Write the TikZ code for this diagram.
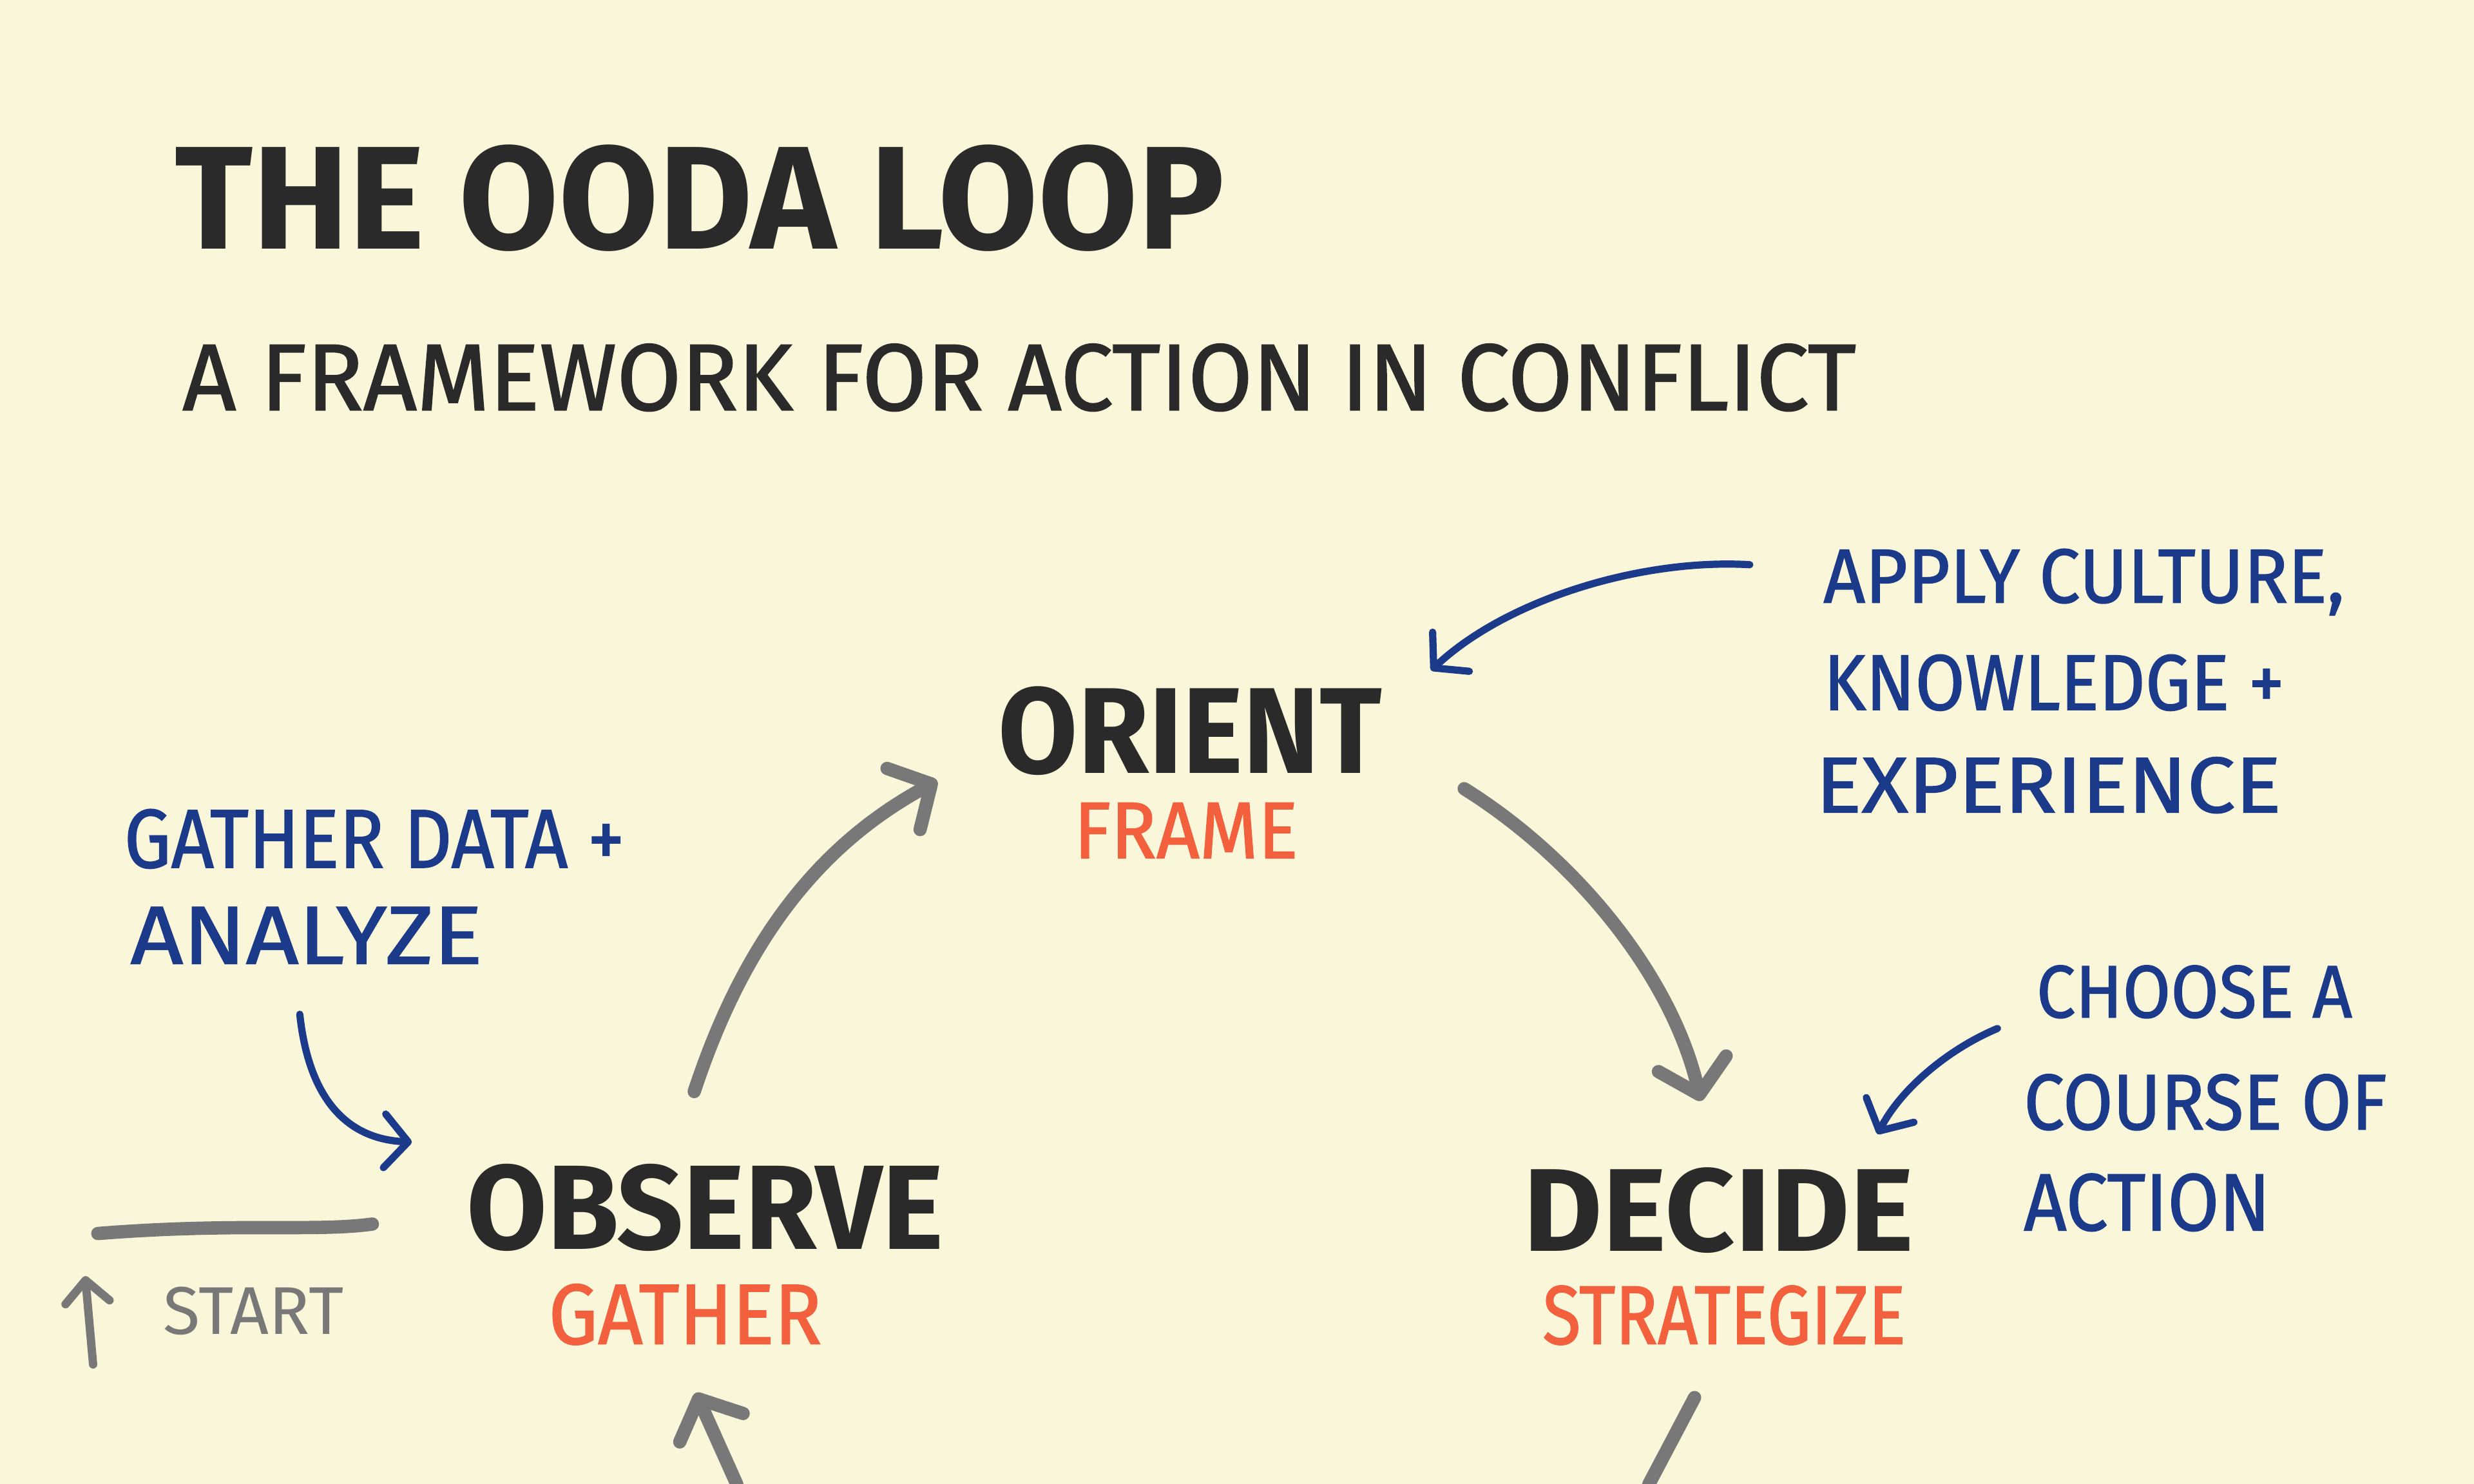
\documentclass[tikz,border=0pt]{standalone}
\usepackage{fontspec}
\setmainfont{Fira Sans}
\newfontfamily\firamedium[FakeBold=1.3]{Fira Sans}
\usetikzlibrary{arrows.meta}
\definecolor{paper}{HTML}{FAF6D9}
\definecolor{ink}{HTML}{2A2A2A}
\definecolor{marker}{HTML}{F2603E}
\definecolor{pen}{HTML}{1B3A8A}
\definecolor{pencil}{HTML}{787878}
\newcommand{\fitbox}[3]{\resizebox{#1cm}{#2cm}{#3}}

\begin{document}
\begin{tikzpicture}[x=0.01cm, y=-0.01cm,
  headline/.style={anchor=base west, inner sep=0pt, text=ink, font=\bfseries},
  subline/.style={anchor=base west, inner sep=0pt, text=ink, font=\firamedium},
  stage/.style={anchor=base west, inner sep=0pt, text=ink, font=\bfseries},
  gloss/.style={anchor=base west, inner sep=0pt, text=marker, font=\firamedium},
  note/.style={anchor=base west, inner sep=0pt, text=pen, font=\firamedium},
  startlabel/.style={anchor=base west, inner sep=0pt, text=pencil},
  flow/.style={pencil, line width=2.4pt, line cap=round, -{Straight Barb[length=2mm, width=4.4mm, round]}},
  trace/.style={pencil, line width=2.4pt, line cap=round},
  hint/.style={pen, line width=1.3pt, line cap=round, -{Straight Barb[length=1.5mm, width=3.4mm, round]}}]
\fill [paper] (0,0) rectangle (1568,940.8);
\useasboundingbox (0,0) rectangle (1568,940.8);

% title
\node [headline] (title) at (110,158) {\fitbox{6.65}{0.66}{THE OODA LOOP}};
\node [subline] (subtitle) at (115,260) {\fitbox{10.6}{0.42}{A FRAMEWORK FOR ACTION IN CONFLICT}};

% the four stages we can see
\node [stage] (orient) at (632,490) {\fitbox{2.43}{0.55}{ORIENT}};
\node [gloss] (frame) at (680,544) {\fitbox{1.42}{0.35}{FRAME}};
\node [stage] (observe) at (295,792) {\fitbox{3.02}{0.54}{OBSERVE}};
\node [gloss] (gather) at (347,852) {\fitbox{1.73}{0.38}{GATHER}};
\node [stage] (decide) at (965,793) {\fitbox{2.47}{0.53}{DECIDE}};
\node [gloss] (strategize) at (977,852) {\fitbox{2.30}{0.37}{STRATEGIZE}};
\node [startlabel] (start) at (103,846) {\fitbox{1.14}{0.30}{START}};

% notes in blue
\node [note] (culture) at (1155,382) {\fitbox{3.3}{0.34}{APPLY CULTURE,}};
\node [note] (knowledge) at (1155,450) {\fitbox{2.92}{0.35}{KNOWLEDGE +}};
\node [note] (experience) at (1150,515) {\fitbox{2.95}{0.35}{EXPERIENCE}};
\node [note] (gatherdata) at (78,550) {\fitbox{3.17}{0.37}{GATHER DATA +}};
\node [note] (analyze) at (82,611) {\fitbox{2.23}{0.36}{ANALYZE}};
\node [note] (choose) at (1290,645) {\fitbox{2.0}{0.33}{CHOOSE A}};
\node [note] (course) at (1282,716) {\fitbox{2.30}{0.35}{COURSE OF}};
\node [note] (action) at (1282,780) {\fitbox{1.56}{0.36}{ACTION}};

% arrow ends
\coordinate (obs-out) at (440,692);
\coordinate (ori-in) at (594,495);
\coordinate (ori-out) at (928,500);
\coordinate (dec-in) at (1078,698);
\coordinate (dec-out) at (1074,886);
\coordinate (loop-low) at (1045,941);
\coordinate (loop-back) at (467,941);
\coordinate (obs-in) at (441,883);
\coordinate (line-a) at (62,782);
\coordinate (line-b) at (236,776);
\coordinate (start-tail) at (59,865);
\coordinate (start-tip) at (54,809);
\coordinate (culture-tail) at (1109,358);
\coordinate (culture-tip) at (907,425);
\coordinate (gd-tail) at (190,643);
\coordinate (gd-tip) at (261,724);
\coordinate (choose-tail) at (1266,652);
\coordinate (choose-tip) at (1190,719);

% the loop
\draw [flow] (obs-out) .. controls (472,595) and (520,535) .. (ori-in);
\draw [flow] (ori-out) .. controls (1000,545) and (1060,620) .. (dec-in);
\draw [trace] (dec-out) -- (loop-low);
\draw [flow] (loop-back) -- (obs-in);
\draw [trace] (line-a) .. controls (150,775) and (200,781) .. (line-b);
\draw [flow, line width=1.5pt, -{Straight Barb[length=1.4mm, width=2.8mm, round]}] (start-tail) -- (start-tip);

% pointers from the notes
\draw [hint] (culture-tail) .. controls (1040,354) and (955,380) .. (culture-tip);
\draw [hint] (gd-tail) .. controls (195,690) and (215,722) .. (gd-tip);
\draw [hint] (choose-tail) .. controls (1235,665) and (1205,690) .. (choose-tip);
\end{tikzpicture}
\end{document}
